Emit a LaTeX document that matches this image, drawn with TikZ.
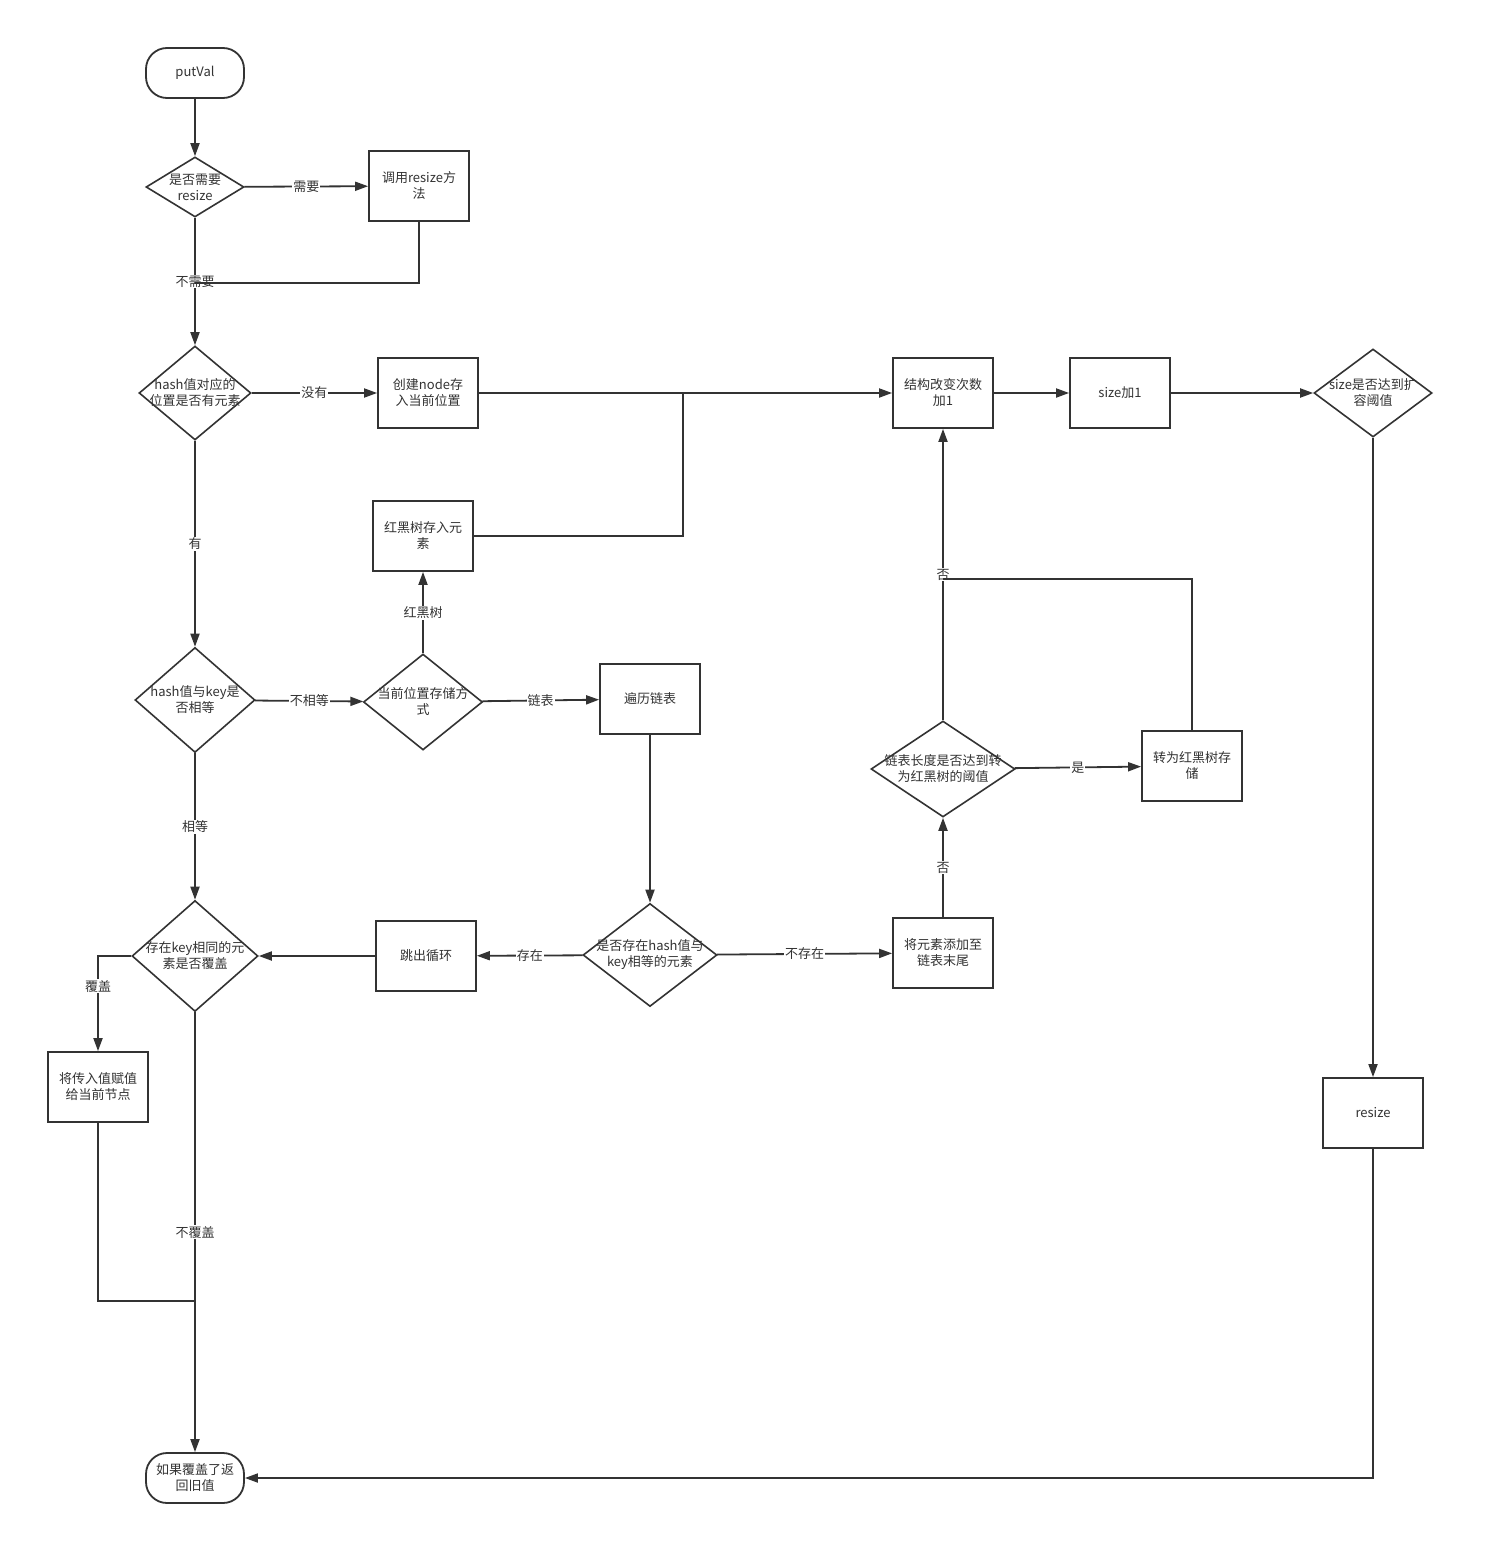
\documentclass[tikz,border=0pt]{standalone}
\usepackage{fontspec}
\setmainfont{Noto Sans CJK SC}
\usetikzlibrary{shapes.geometric,arrows.meta}
\definecolor{ln}{HTML}{333333}
\begin{document}
\begin{tikzpicture}[x=1pt,y=-1pt,
 font=\fontsize{13pt}{16pt}\selectfont,
 box/.style={draw=ln, text=ln, line width=1.8pt, minimum width=100pt, minimum height=70pt, align=center, inner sep=1pt, fill=white},
 term/.style={draw=ln, text=ln, line width=1.8pt, rounded corners=21pt, minimum width=98pt, minimum height=50pt, align=center, inner sep=1pt},
 dia/.style={draw=ln, diamond, line width=1.6pt, inner sep=0pt},
 txt/.style={text=ln, align=center, inner sep=0pt},
 lbl/.style={text=ln, fill=white, inner sep=1pt},
 con/.style={draw=ln, line width=1.8pt},
 arr/.style={con, -{Triangle[length=13pt,width=9pt]}},
]
\useasboundingbox[fill=white] (0,0) rectangle (1494,1565);

% terminals
\node[term] (start) at (195,73) {putVal};
\node[term] (stop) at (195,1478) {如果覆盖了返\\回旧值};

% diamonds
\node[dia, minimum width=98pt, minimum height=60pt] (d1) at (195,187) {};
\node[txt] at (d1) {是否需要\\resize};
\node[dia, minimum width=112pt, minimum height=94pt] (d2) at (195,393) {};
\node[txt] at (d2) {hash值对应的\\位置是否有元素};
\node[dia, minimum width=118pt, minimum height=88pt] (d3) at (1373,393) {};
\node[txt] at (d3) {size是否达到扩\\容阈值};
\node[dia, minimum width=120pt, minimum height=105pt] (d4) at (195,700) {};
\node[txt] at (d4) {hash值与key是\\否相等};
\node[dia, minimum width=119pt, minimum height=96pt] (d5) at (423,702) {};
\node[txt] at (d5) {当前位置存储方\\式};
\node[dia, minimum width=144pt, minimum height=96pt] (d6) at (943,769) {};
\node[txt] at (d6) {链表长度是否达到转\\为红黑树的阈值};
\node[dia, minimum width=126pt, minimum height=111pt] (d7) at (195,956) {};
\node[txt] at (d7) {存在key相同的元\\素是否覆盖};
\node[dia, minimum width=134pt, minimum height=103pt] (d8) at (650,955) {};
\node[txt] at (d8) {是否存在hash值与\\key相等的元素};

% boxes
\node[box] (r1) at (419,186) {调用resize方\\法};
\node[box] (n1) at (428,393) {创建node存\\入当前位置};
\node[box] (n2) at (943,393) {结构改变次数\\加1};
\node[box] (n3) at (1120,393) {size加1};
\node[box] (rb) at (423,536) {红黑树存入元\\素};
\node[box] (n4) at (650,699) {遍历链表};
\node[box] (n5) at (1192,766) {转为红黑树存\\储};
\node[box] (n6) at (426,956) {跳出循环};
\node[box] (n7) at (943,953) {将元素添加至\\链表末尾};
\node[box] (n8) at (98,1087) {将传入值赋值\\给当前节点};
\node[box] (r2) at (1373,1113) {resize};

% junctions
\coordinate (j1) at (195,283);
\coordinate (j2) at (683,393);
\coordinate (j3) at (943,579);
\coordinate (j4) at (195,1301);

% connectors
\draw[arr] (start) -- (d1);
\draw[arr] (d1) -- node[lbl]{需要} (r1);
\draw[arr] (d1) -- node[lbl]{不需要} (d2);
\draw[con] (r1.south) |- (j1);
\draw[arr] (d2) -- node[lbl]{没有} (n1);
\draw[arr] (n1) -- (n2);
\draw[con] (rb.east) -| (j2);
\draw[arr] (n2) -- (n3);
\draw[arr] (n3) -- (d3);
\draw[arr] (d3) -- (r2);
\draw[arr] (r2.south) |- (stop.east);
\draw[arr] (d2) -- node[lbl]{有} (d4);
\draw[arr] (d4) -- node[lbl]{不相等} (d5);
\draw[arr] (d5) -- node[lbl]{红黑树} (rb);
\draw[arr] (d5) -- node[lbl]{链表} (n4);
\draw[arr] (n4) -- (d8);
\draw[arr] (d4) -- node[lbl]{相等} (d7);
\draw[arr] (d8) -- node[lbl]{存在} (n6);
\draw[arr] (n6) -- (d7);
\draw[arr] (d8) -- node[lbl]{不存在} (n7);
\draw[arr] (n7) -- node[lbl]{否} (d6);
\draw[arr] (d6) -- node[lbl]{否} (n2);
\draw[arr] (d6) -- node[lbl]{是} (n5);
\draw[con] (n5.north) |- (j3);
\draw[arr] (d7.west) -| node[lbl, pos=0.66]{覆盖} (n8.north);
\draw[arr] (d7) -- node[lbl]{不覆盖} (stop);
\draw[con] (n8.south) |- (j4);
\end{tikzpicture}
\end{document}
